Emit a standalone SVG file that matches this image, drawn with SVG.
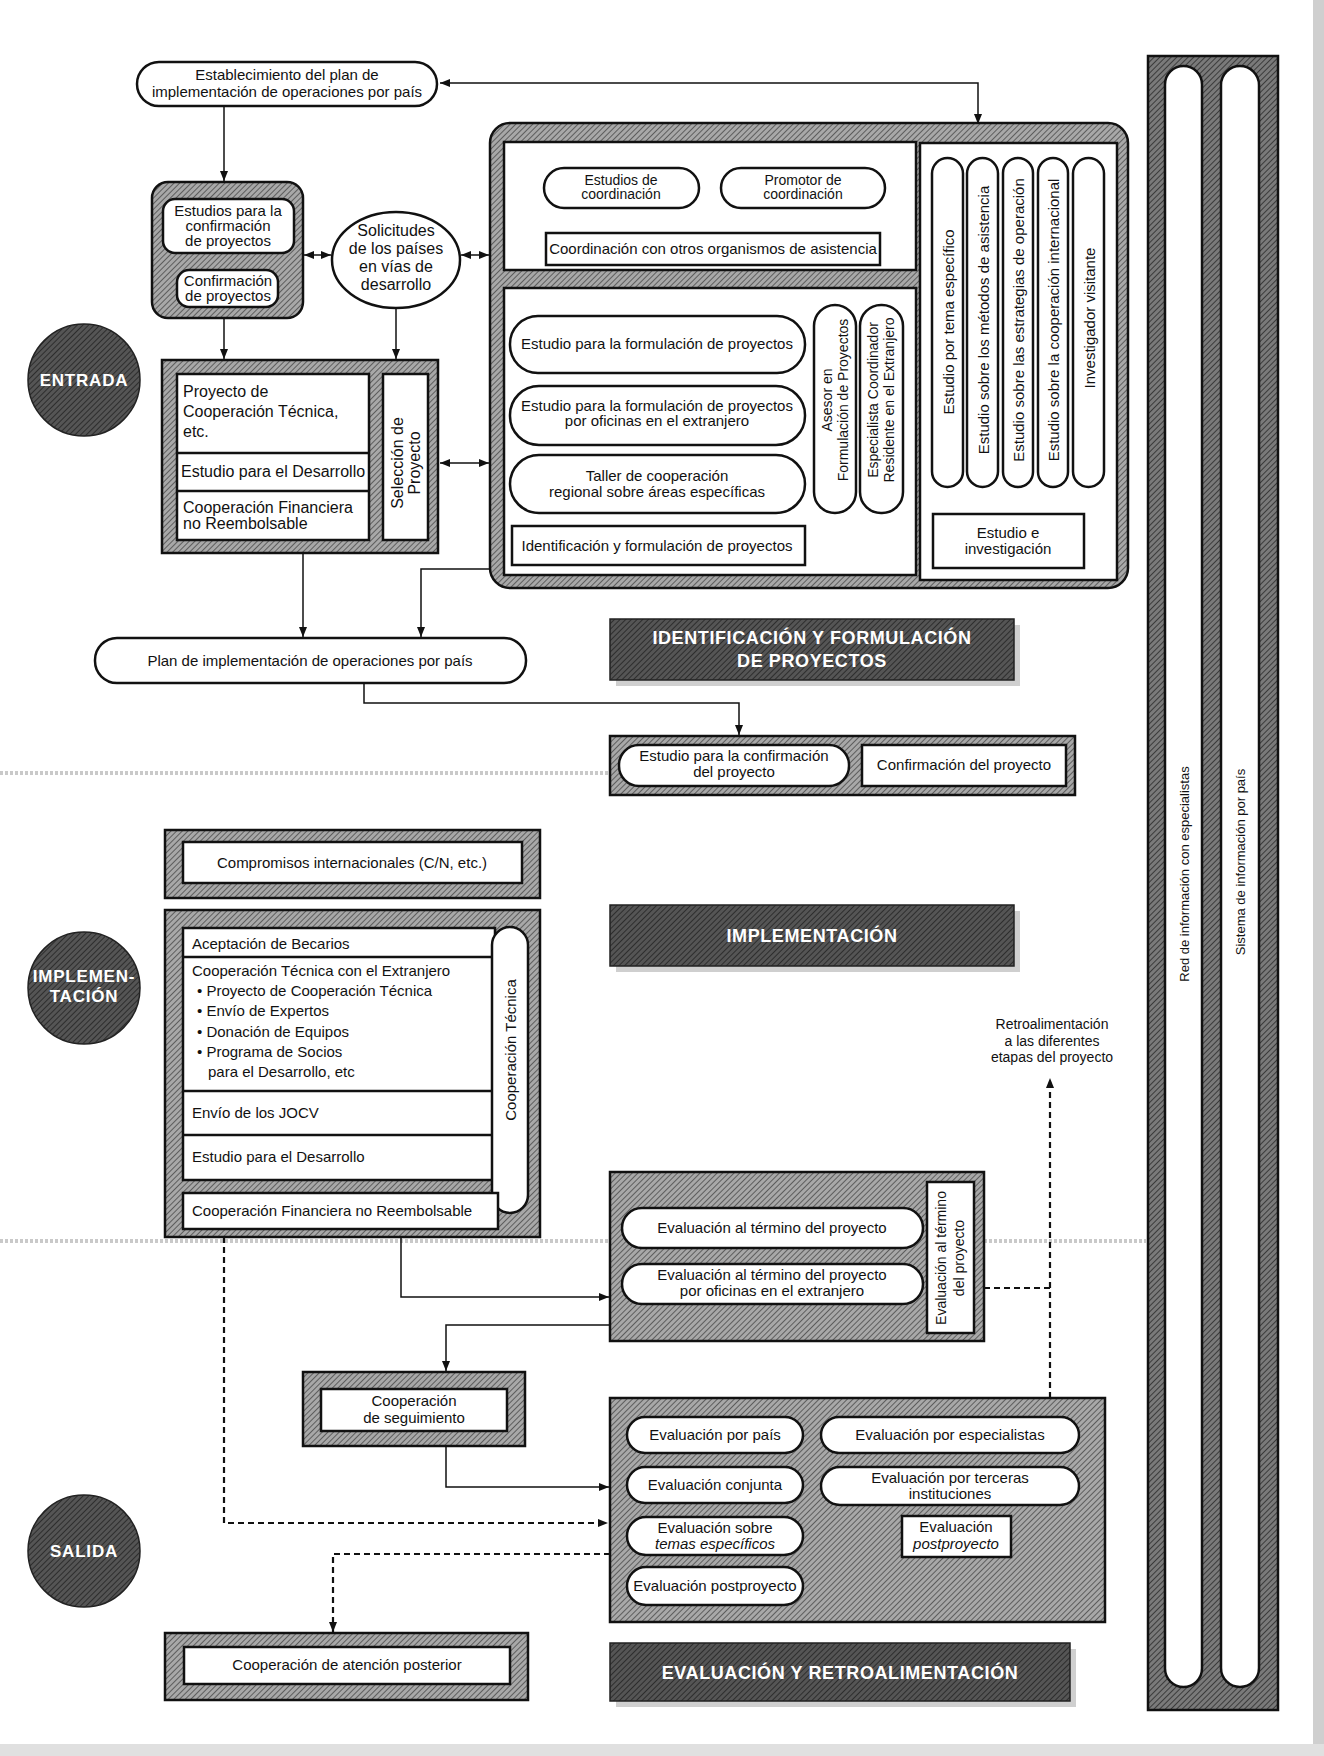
<svg xmlns="http://www.w3.org/2000/svg" width="1324" height="1756" viewBox="0 0 1324 1756">
<defs>
<pattern id="hatch" width="4" height="4" patternUnits="userSpaceOnUse" patternTransform="rotate(45)"><rect width="4" height="4" fill="#a8a8a8"/><line x1="0" y1="0" x2="0" y2="4" stroke="#4a4a4a" stroke-width="1.6"/></pattern>
<pattern id="hatch2" width="4" height="4" patternUnits="userSpaceOnUse" patternTransform="rotate(45)"><rect width="4" height="4" fill="#7a7a7a"/><line x1="0" y1="0" x2="0" y2="4" stroke="#333" stroke-width="1.8"/></pattern>
<pattern id="dark" width="4" height="4" patternUnits="userSpaceOnUse" patternTransform="rotate(45)"><rect width="4" height="4" fill="#555"/><line x1="0" y1="0" x2="0" y2="4" stroke="#222" stroke-width="1.6"/></pattern>
<marker id="ah" viewBox="0 0 10 10" refX="10" refY="5" markerWidth="10" markerHeight="10" markerUnits="userSpaceOnUse" orient="auto-start-reverse"><path d="M0,1 L10,5 L0,9 z" fill="#111"/></marker>
</defs>
<style>
.bg{fill:#fff}
.h{fill:url(#hatch);stroke:#111;stroke-width:2.5}
.h2{fill:url(#hatch2);stroke:#111;stroke-width:2.5}
.w{fill:#fff;stroke:#111;stroke-width:2.5}
.d{fill:url(#dark);stroke:#222;stroke-width:1.5}
.sh{fill:#cfcfcf}
text{font-family:"Liberation Sans",Arial,Helvetica,sans-serif;fill:#111;font-size:15px}
.c{text-anchor:middle}
.s14{font-size:14px}
.s16{font-size:16px}
.s13{font-size:13px}
.it{font-style:italic}
.lb{font-weight:bold;fill:#fff;font-size:18px;letter-spacing:0.6px;text-anchor:middle}
.cl{font-weight:bold;fill:#fff;font-size:17px;letter-spacing:0.8px;text-anchor:middle}
.v{text-anchor:middle;dominant-baseline:central}
.cn{fill:none;stroke:#111;stroke-width:1.5}
.dz{fill:none;stroke:#111;stroke-width:2.2;stroke-dasharray:6 4}
.band{stroke:#c9c9c9;stroke-width:4;stroke-dasharray:3 2;fill:none}
</style>
<rect class="bg" x="0" y="0" width="1324" height="1756"/>
<rect x="1313" y="0" width="11" height="1756" fill="#cfcfcf"/>
<rect x="0" y="1744" width="1324" height="12" fill="#e0e0e0"/>
<path class="band" d="M0,773 H610 M0,1241 H610 M984,1241 H1146"/>

<!-- phase circles -->
<g id="entrada"><circle class="d" cx="84" cy="380" r="56"/><text class="cl" x="84" y="386">ENTRADA</text></g>
<g id="implementacion"><circle class="d" cx="84" cy="988" r="56"/><text class="cl" x="84" y="982">IMPLEMEN-</text><text class="cl" x="84" y="1002">TACIÓN</text></g>
<g id="salida"><circle class="d" cx="84" cy="1551" r="56"/><text class="cl" x="84" y="1557">SALIDA</text></g>

<!-- top node -->
<g id="establecimiento"><rect class="w" x="137" y="62" width="300" height="44" rx="22"/><text class="c" x="287" y="80">Establecimiento del plan de</text><text class="c" x="287" y="97">implementación de operaciones por país</text></g>

<!-- estudios group -->
<g id="estudios-confirmacion"><rect class="h" x="152" y="182" width="151" height="136" rx="16"/>
<rect class="w" x="163" y="199" width="131" height="54" rx="12"/><text class="c" x="228" y="216">Estudios para la</text><text class="c" x="228" y="231">confirmación</text><text class="c" x="228" y="246">de proyectos</text>
<rect class="w" x="177" y="270" width="101" height="37" rx="12"/><text class="c" x="228" y="286">Confirmación</text><text class="c" x="228" y="301">de proyectos</text></g>

<g id="solicitudes"><ellipse class="w" cx="396" cy="260" rx="64" ry="48"/><text class="c s16" x="396" y="236">Solicitudes</text><text class="c s16" x="396" y="254">de los países</text><text class="c s16" x="396" y="272">en vías de</text><text class="c s16" x="396" y="290">desarrollo</text></g>

<!-- entrada box -->
<g id="entrada-box"><rect class="h" x="162" y="360" width="276" height="193"/>
<rect class="w" x="177" y="374" width="192" height="166"/><line x1="177" y1="453" x2="369" y2="453" stroke="#111" stroke-width="2.5"/><line x1="177" y1="491" x2="369" y2="491" stroke="#111" stroke-width="2.5"/>
<text class="s16" x="183" y="397">Proyecto de</text><text class="s16" x="183" y="417">Cooperación Técnica,</text><text class="s16" x="183" y="437">etc.</text>
<text class="s16" x="181" y="477">Estudio para el Desarrollo</text>
<text class="s16" x="183" y="513">Cooperación Financiera</text><text class="s16" x="183" y="529">no Reembolsable</text>
<rect class="w" x="383" y="374" width="45" height="166"/>
<g transform="translate(405,463) rotate(-90)"><text class="v s16" x="0" y="-8">Selección de</text><text class="v s16" x="0" y="9">Proyecto</text></g></g>

<!-- identification big box -->
<g id="identificacion-box"><rect class="h" x="490" y="123" width="638" height="465" rx="20"/>
<rect class="w" x="504" y="142" width="412" height="128"/>
<rect class="w" x="544" y="168" width="155" height="40" rx="20"/><text class="c s14" x="621" y="185">Estudios de</text><text class="c s14" x="621" y="199">coordinación</text>
<rect class="w" x="721" y="168" width="164" height="40" rx="20"/><text class="c s14" x="803" y="185">Promotor de</text><text class="c s14" x="803" y="199">coordinación</text>
<rect class="w" x="546" y="233" width="334" height="32"/><text class="c" x="713" y="254">Coordinación con otros organismos de asistencia</text>
<rect class="w" x="504" y="288" width="412" height="287"/>
<rect class="w" x="510" y="316" width="295" height="57" rx="28"/><text class="c" x="657" y="349">Estudio para la formulación de proyectos</text>
<rect class="w" x="510" y="386" width="295" height="59" rx="29"/><text class="c" x="657" y="411">Estudio para la formulación de proyectos</text><text class="c" x="657" y="426">por oficinas en el extranjero</text>
<rect class="w" x="510" y="455" width="295" height="58" rx="29"/><text class="c" x="657" y="481">Taller de cooperación</text><text class="c" x="657" y="497">regional sobre áreas específicas</text>
<rect class="w" x="512" y="526" width="293" height="39"/><text class="c" x="657" y="551">Identificación y formulación de proyectos</text>
<rect class="w" x="814" y="305" width="42" height="208" rx="21"/>
<g transform="translate(835,400) rotate(-90)"><text class="v s14" x="0" y="-8">Asesor en</text><text class="v s14" x="0" y="8">Formulación de Proyectos</text></g>
<rect class="w" x="860" y="305" width="43" height="208" rx="21"/>
<g transform="translate(881,400) rotate(-90)"><text class="v s14" x="0" y="-8">Especialista Coordinador</text><text class="v s14" x="0" y="8">Residente en el Extranjero</text></g>
<rect class="w" x="920" y="143" width="197" height="437"/>
<rect class="w" x="932" y="158" width="31" height="329" rx="15.5"/><text class="v" transform="translate(948,322) rotate(-90)">Estudio por tema específico</text>
<rect class="w" x="967" y="158" width="31" height="329" rx="15.5"/><text class="v" transform="translate(983,320) rotate(-90)">Estudio sobre los métodos de asistencia</text>
<rect class="w" x="1003" y="158" width="30" height="329" rx="15"/><text class="v" transform="translate(1018,320) rotate(-90)">Estudio sobre las estrategias de operación</text>
<rect class="w" x="1038" y="158" width="30" height="329" rx="15"/><text class="v" transform="translate(1053,320) rotate(-90)">Estudio sobre la cooperación internacional</text>
<rect class="w" x="1073" y="158" width="31" height="329" rx="15.5"/><text class="v" transform="translate(1089,318) rotate(-90)">Investigador visitante</text>
<rect class="w" x="933" y="514" width="151" height="54"/><text class="c" x="1008" y="538">Estudio e</text><text class="c" x="1008" y="554">investigación</text></g>

<!-- labels -->
<g id="label-identificacion"><rect class="sh" x="616" y="625" width="404" height="61"/><rect class="d" x="610" y="619" width="404" height="61"/><text class="lb" x="812" y="644">IDENTIFICACIÓN Y FORMULACIÓN</text><text class="lb" x="812" y="667">DE PROYECTOS</text></g>
<g id="label-implementacion"><rect class="sh" x="616" y="911" width="404" height="61"/><rect class="d" x="610" y="905" width="404" height="61"/><text class="lb" x="812" y="942">IMPLEMENTACIÓN</text></g>
<g id="label-evaluacion"><rect class="sh" x="616" y="1649" width="460" height="58"/><rect class="d" x="610" y="1643" width="460" height="58"/><text class="lb" x="840" y="1679">EVALUACIÓN Y RETROALIMENTACIÓN</text></g>

<!-- plan node -->
<g id="plan"><rect class="w" x="95" y="638" width="431" height="45" rx="22"/><text class="c" x="310" y="666">Plan de implementación de operaciones por país</text></g>

<!-- confirmation -->
<g id="confirmacion"><rect class="h" x="610" y="736" width="465" height="59"/>
<rect class="w" x="619" y="745" width="230" height="41" rx="20"/><text class="c" x="734" y="761">Estudio para la confirmación</text><text class="c" x="734" y="777">del proyecto</text>
<rect class="w" x="862" y="745" width="204" height="41"/><text class="c" x="964" y="770">Confirmación del proyecto</text></g>

<!-- implementation -->
<g id="compromisos"><rect class="h" x="165" y="830" width="375" height="68"/><rect class="w" x="183" y="842" width="339" height="41"/><text class="c" x="352" y="868">Compromisos internacionales (C/N, etc.)</text></g>
<g id="implementacion-box"><rect class="h" x="165" y="910" width="375" height="327"/>
<rect class="w" x="183" y="928" width="312" height="252"/>
<line x1="183" y1="957" x2="495" y2="957" stroke="#111" stroke-width="2.5"/><line x1="183" y1="1091" x2="495" y2="1091" stroke="#111" stroke-width="2.5"/><line x1="183" y1="1135" x2="495" y2="1135" stroke="#111" stroke-width="2.5"/>
<rect class="w" x="492" y="927" width="36" height="286" rx="18"/>
<text class="v" transform="translate(510,1050) rotate(-90)">Cooperación Técnica</text>
<text x="192" y="949">Aceptación de Becarios</text>
<text x="192" y="976">Cooperación Técnica con el Extranjero</text>
<text x="197" y="996">• Proyecto de Cooperación Técnica</text>
<text x="197" y="1016">• Envío de Expertos</text>
<text x="197" y="1037">• Donación de Equipos</text>
<text x="197" y="1057">• Programa de Socios</text>
<text x="208" y="1077">para el Desarrollo, etc</text>
<text x="192" y="1118">Envío de los JOCV</text>
<text x="192" y="1162">Estudio para el Desarrollo</text>
<rect class="w" x="183" y="1193" width="315" height="36"/><text x="192" y="1216">Cooperación Financiera no Reembolsable</text></g>

<!-- evaluation -->
<g id="evaluacion-termino"><rect class="h" x="610" y="1172" width="374" height="169"/>
<rect class="w" x="622" y="1208" width="301" height="40" rx="20"/><text class="c" x="772" y="1233">Evaluación al término del proyecto</text>
<rect class="w" x="622" y="1264" width="301" height="40" rx="20"/><text class="c" x="772" y="1280">Evaluación al término del proyecto</text><text class="c" x="772" y="1296">por oficinas en el extranjero</text>
<rect class="w" x="927" y="1182" width="47" height="151"/>
<g transform="translate(950,1258) rotate(-90)"><text class="v s14" x="0" y="-9">Evaluación al término</text><text class="v s14" x="0" y="9">del proyecto</text></g></g>

<g id="retro"><text class="c s14" x="1052" y="1029">Retroalimentación</text><text class="c s14" x="1052" y="1046">a las diferentes</text><text class="c s14" x="1052" y="1062">etapas del proyecto</text></g>

<g id="seguimiento"><rect class="h" x="303" y="1372" width="222" height="74"/><rect class="w" x="321" y="1389" width="186" height="42"/><text class="c" x="414" y="1406">Cooperación</text><text class="c" x="414" y="1423">de seguimiento</text></g>

<g id="evaluacion-box"><rect class="h" x="610" y="1398" width="495" height="224"/>
<rect class="w" x="627" y="1417" width="176" height="36" rx="18"/><text class="c" x="715" y="1440">Evaluación por país</text>
<rect class="w" x="821" y="1417" width="258" height="36" rx="18"/><text class="c" x="950" y="1440">Evaluación por especialistas</text>
<rect class="w" x="627" y="1467" width="176" height="36" rx="18"/><text class="c" x="715" y="1490">Evaluación conjunta</text>
<rect class="w" x="821" y="1467" width="258" height="38" rx="19"/><text class="c" x="950" y="1483">Evaluación por terceras</text><text class="c" x="950" y="1499">instituciones</text>
<rect class="w" x="627" y="1517" width="176" height="38" rx="19"/><text class="c" x="715" y="1533">Evaluación sobre</text><text class="c it" x="715" y="1549">temas específicos</text>
<rect class="w" x="902" y="1516" width="109" height="41"/><text class="c" x="956" y="1532">Evaluación</text><text class="c it" x="956" y="1549">postproyecto</text>
<rect class="w" x="627" y="1567" width="176" height="38" rx="19"/><text class="c" x="715" y="1591">Evaluación postproyecto</text></g>

<g id="atencion-posterior"><rect class="h" x="165" y="1633" width="363" height="67"/><rect class="w" x="184" y="1647" width="326" height="37"/><text class="c" x="347" y="1670">Cooperación de atención posterior</text></g>

<!-- info columns -->
<g id="info-columns"><rect class="h2" x="1148" y="56" width="130" height="1654"/>
<rect class="w" x="1165" y="66" width="37" height="1621" rx="18.5"/><text class="v s13" transform="translate(1184,874) rotate(-90)">Red de información con especialistas</text>
<rect class="w" x="1221" y="66" width="38" height="1621" rx="19"/><text class="v s13" transform="translate(1240,862) rotate(-90)">Sistema de información por país</text></g>

<!-- connectors -->
<g id="connectors">
<path class="cn" d="M224,106 V181" marker-end="url(#ah)"/>
<path class="cn" d="M440,83 H978 V124" marker-start="url(#ah)" marker-end="url(#ah)"/>
<path class="cn" d="M304,255 H331" marker-start="url(#ah)" marker-end="url(#ah)"/>
<path class="cn" d="M461,255 H489" marker-start="url(#ah)" marker-end="url(#ah)"/>
<path class="cn" d="M224,318 V359" marker-end="url(#ah)"/>
<path class="cn" d="M396,308 V359" marker-end="url(#ah)"/>
<path class="cn" d="M440,463 H489" marker-start="url(#ah)" marker-end="url(#ah)"/>
<path class="cn" d="M303,553 V637" marker-end="url(#ah)"/>
<path class="cn" d="M490,569 H421 V637" marker-end="url(#ah)"/>
<path class="cn" d="M364,683 V703 H739 V735" marker-end="url(#ah)"/>
<path class="cn" d="M401,1237 V1297 H609" marker-end="url(#ah)"/>
<path class="cn" d="M610,1325 H446 V1371" marker-end="url(#ah)"/>
<path class="cn" d="M446,1446 V1487 H609" marker-end="url(#ah)"/>
<path class="dz" d="M224,1237 V1523 H608" marker-end="url(#ah)"/>
<path class="dz" d="M610,1554 H333 V1632" marker-end="url(#ah)"/>
<path class="dz" d="M984,1288 H1050"/>
<path class="dz" d="M1050,1398 V1078" marker-end="url(#ah)"/>
</g>
</svg>
